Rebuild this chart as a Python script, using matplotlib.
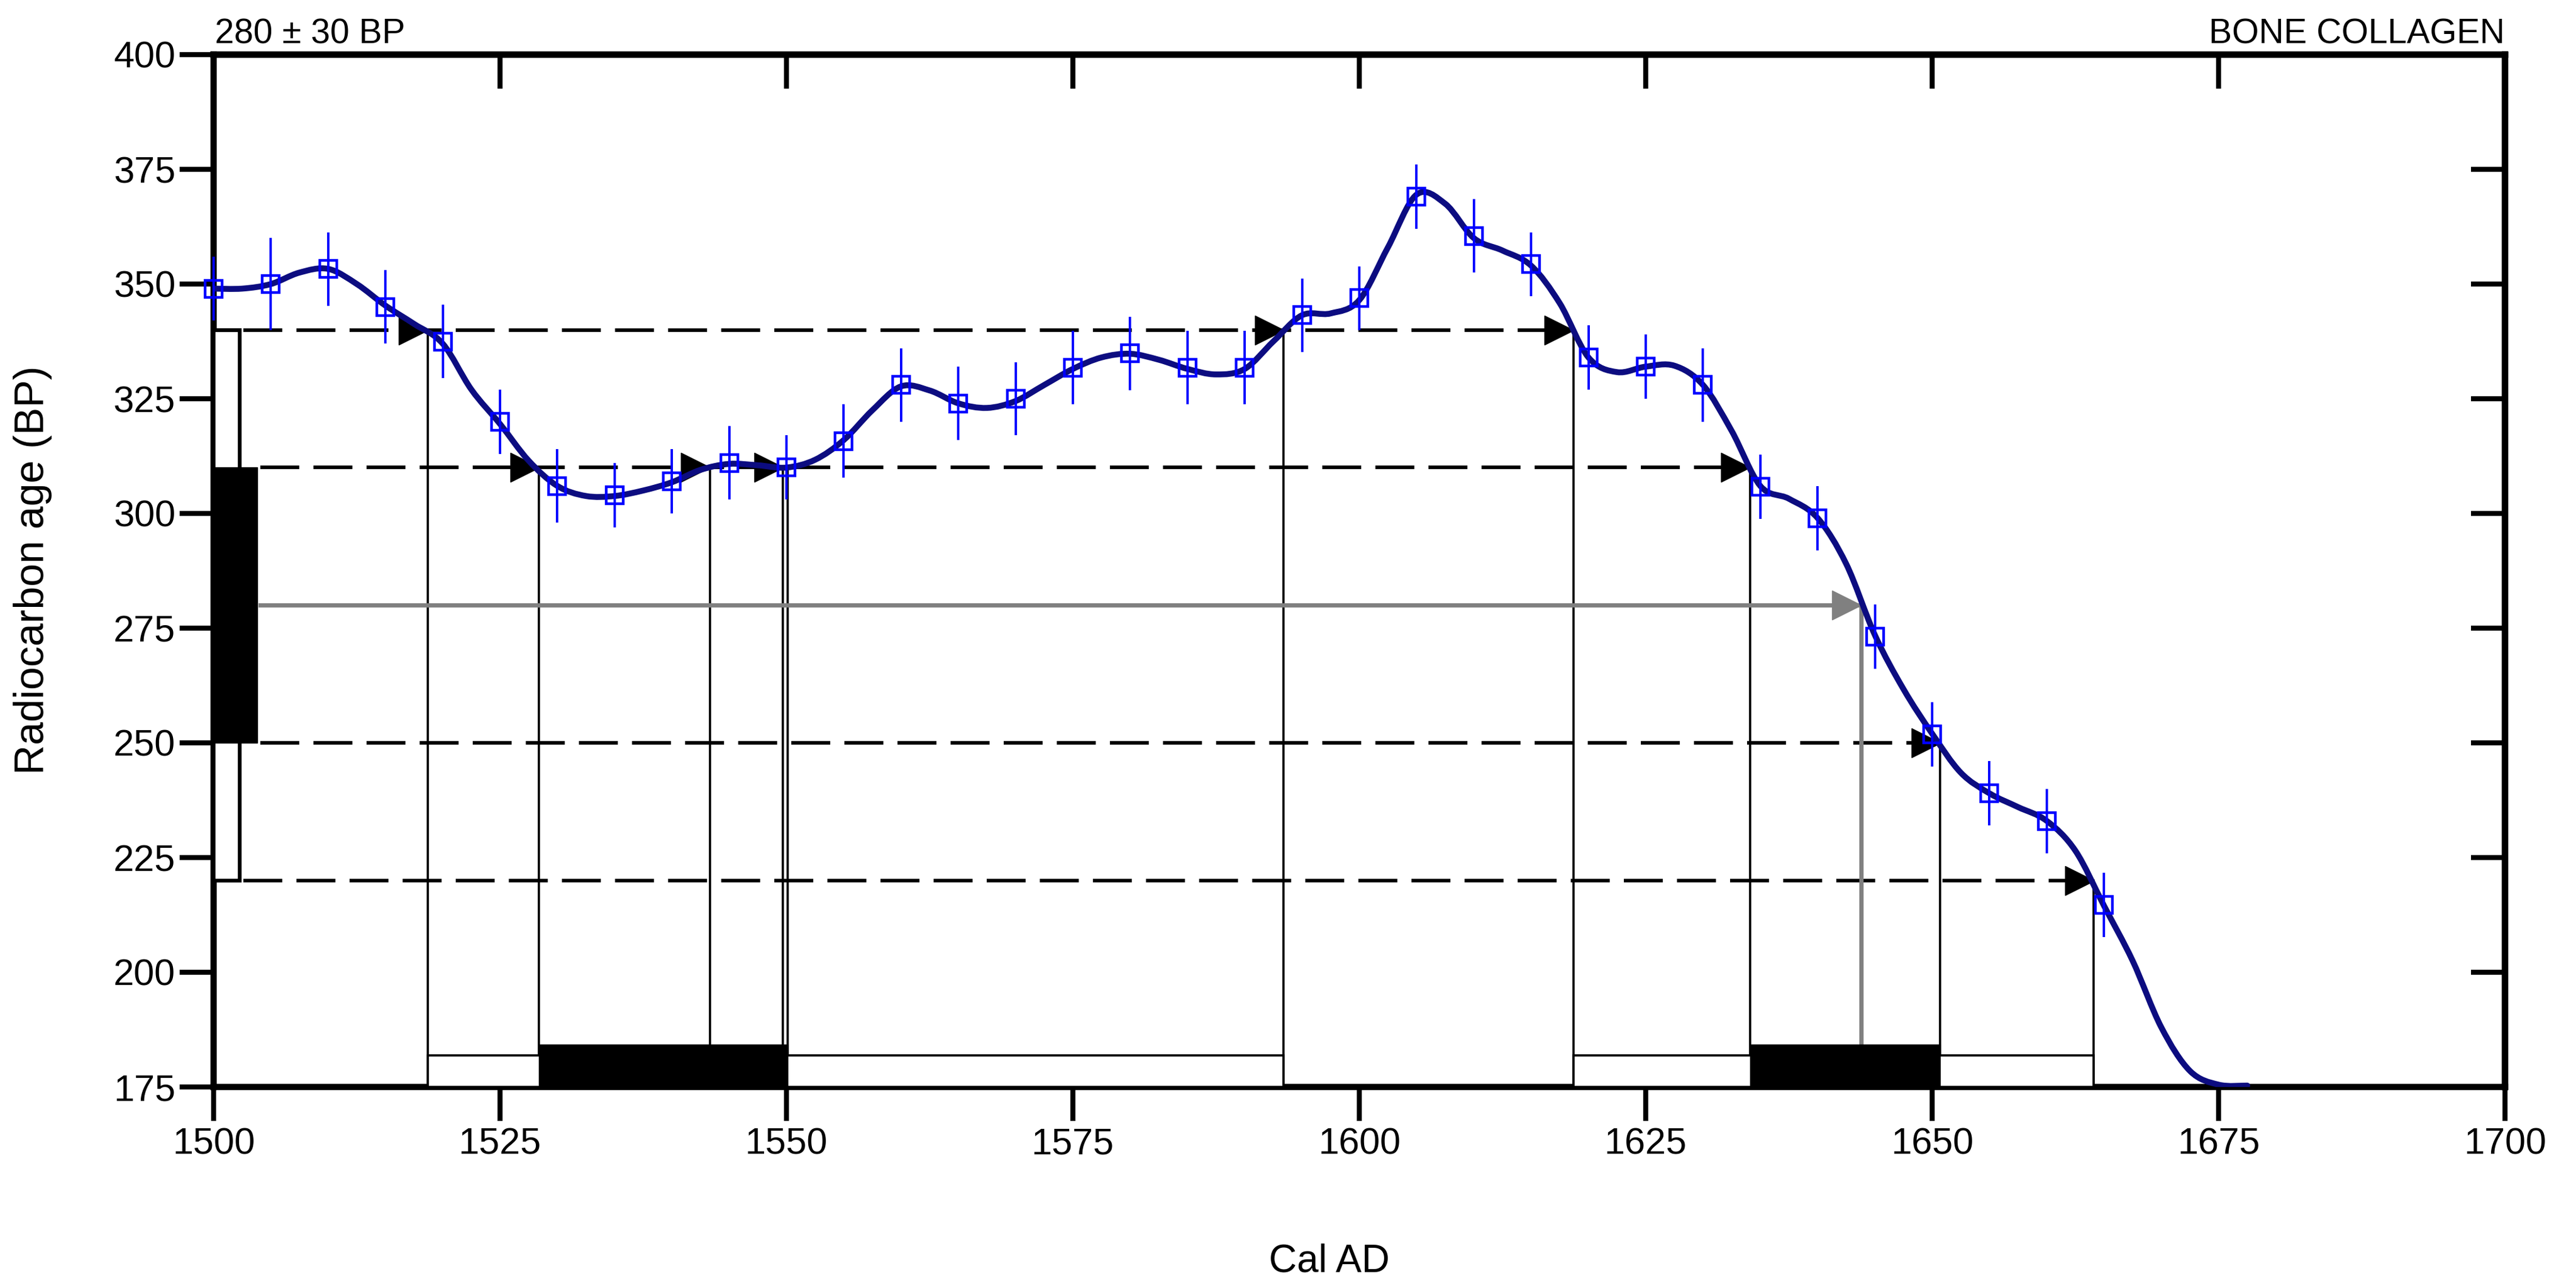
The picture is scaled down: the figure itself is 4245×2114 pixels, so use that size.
import numpy as np
import matplotlib
matplotlib.use("Agg")
import matplotlib.pyplot as plt
from matplotlib.path import Path
from matplotlib.patches import PathPatch
from matplotlib.transforms import offset_copy

plt.rcParams['font.family'] = ['Liberation Sans', 'DejaVu Sans']

# --- calibration curve data ---
point_year = np.arange(1500, 1666, 5)
point_age = [349, 350, 353.3, 345, 337.5, 320, 306, 304, 307, 311, 310, 315.8,
             328, 324, 325, 331.8, 334.9, 331.8, 331.8, 343.2, 346.9, 369, 360.5,
             354.3, 334, 332, 328, 305.8, 298.9, 273.1, 251.9, 239, 232.9, 214.7]
point_err = [7, 10, 8, 8, 8, 7, 8, 7, 7, 8, 7, 8, 8, 8, 8, 8, 8, 8, 8, 8, 7, 7,
             8, 7, 7, 7, 8, 7, 7, 7, 7, 7, 7, 7]

curve_year = np.arange(1500, 1677.6, 2.5)
curve_age = [349, 349, 350, 352.5, 353.3, 350, 345.3, 341.3, 337, 327, 319.5, 311.5,
             306, 303.8, 303.8, 305, 306.8, 309.5, 310.8, 310.5, 310, 311.7, 316, 322.5,
             327.7, 326.8, 324, 323, 324.5, 328, 331.5, 334, 334.8, 333.5, 331.5, 330.3,
             331.5, 337.5, 343.2, 343.6, 346.5, 358, 369.5, 367.5, 360, 357.3, 354, 345.8,
             334, 330.8, 332, 332.2, 328, 318, 306, 303.2, 299, 289, 273.5, 261.7,
             252, 243.5, 239, 236, 233, 226.5, 214.5, 202.5, 188, 178.5, 175.5, 175.3]

# sample: 280 +- 30 BP
sample_age = 280
sample_err = 30
cal_median = 1643.8

# intersections of the +-1 and +-2 sigma levels with the curve
level_ages = [340, 310, 250, 220]
level_hits = [[1518.7, 1593.4, 1618.7],
              [1528.4, 1543.3, 1549.7, 1550.1, 1634.1],
              [1650.7],
              [1664.1]]
# where an arrow head is drawn on each level
arrow_hits = [[1518.7, 1593.4, 1618.7],
              [1528.4, 1543.3, 1549.7, 1634.1],
              [1650.7],
              [1664.1]]

# calibrated ranges shown on the x axis
range_2s = [(1518.7, 1593.4), (1618.7, 1664.1)]
range_1s = [(1528.4, 1550.1), (1634.1, 1650.7)]

x_ticks = [1500, 1525, 1550, 1575, 1600, 1625, 1650, 1675, 1700]
y_ticks = [175, 200, 225, 250, 275, 300, 325, 350, 375, 400]


def smooth_path(xs, ys):
    # catmull-rom through the read points, as bezier segments
    pts = np.column_stack([xs, ys])
    n = len(pts)
    verts = [pts[0]]
    codes = [Path.MOVETO]
    for i in range(n - 1):
        p0 = pts[max(i - 1, 0)]
        p1 = pts[i]
        p2 = pts[i + 1]
        p3 = pts[min(i + 2, n - 1)]
        verts += [p1 + (p2 - p0) / 6, p2 - (p3 - p1) / 6, p2]
        codes += [Path.CURVE4] * 3
    return Path(verts, codes)


W, H = 4245, 2114
fig = plt.figure(figsize=(W / 100, H / 100), dpi=100)
ax = fig.add_axes([352 / W, 1 - 1791 / H, (4128 - 352) / W, (1791 - 90) / H])
ax.set_xlim(1500, 1700)
ax.set_ylim(175, 400)

spine_lw = 7.5
tick_len = 40
tick_w = 6
for s in ax.spines.values():
    s.set_linewidth(spine_lw)
ax.set_xticks(x_ticks)
ax.set_yticks(y_ticks)
ax.tick_params(direction='out', length=tick_len, width=tick_w, labelsize=44)
ax.tick_params(axis='x', pad=8)
ax.tick_params(axis='y', pad=5)

# inward ticks on top and right
top = ax.secondary_xaxis('top')
top.set_xticks(x_ticks)
top.tick_params(direction='in', length=tick_len, width=tick_w, labeltop=False)
top.spines['top'].set_linewidth(spine_lw)
right = ax.secondary_yaxis('right')
right.set_yticks(y_ticks)
right.tick_params(direction='in', length=tick_len, width=tick_w, labelright=False)
right.spines['right'].set_linewidth(spine_lw)

# left bars: sample age +-1 / +-2 sigma
lo2, hi2 = sample_age - 2 * sample_err, sample_age + 2 * sample_err
lo1, hi1 = sample_age - sample_err, sample_age + sample_err
ax.bar(1500, hi2 - lo2, bottom=lo2, width=2.3, align='edge', facecolor='white',
       edgecolor='black', linewidth=4.5, zorder=3, clip_on=False)
ax.bar(1500, hi1 - lo1, bottom=lo1, width=3.8, align='edge', facecolor='black',
       edgecolor='black', linewidth=1, zorder=4, clip_on=False)

# dashed sigma levels + drop lines to the axis
for lev, hits in zip(level_ages, level_hits):
    x0 = 1502.6 if lev in (hi2, lo2) else 1504.1
    ax.plot([x0, max(hits)], [lev, lev], color='black', lw=4.2,
            linestyle=(0, (11, 4)), zorder=2)
    for hx in hits:
        ax.plot([hx, hx], [175, lev], color='black', lw=2.6, zorder=2)

# arrow heads at each hit (tip on the curve)
arrow_tf = offset_copy(ax.transData, fig=fig, x=-17, y=0, units='points')
for lev, hits in zip(level_ages, arrow_hits):
    ax.plot(hits, [lev] * len(hits), linestyle='none', marker='>', ms=34,
            color='black', transform=arrow_tf, zorder=5)

# sample age line to the median
ax.plot([1504.1, cal_median], [sample_age, sample_age], color='#808080', lw=5, zorder=2)
ax.plot([cal_median, cal_median], [175, sample_age], color='#808080', lw=5, zorder=2)
ax.plot([cal_median], [sample_age], linestyle='none', marker='>', ms=34,
        color='#808080', transform=arrow_tf, zorder=5)

# calibrated ranges at the bottom
for a, b in range_2s:
    ax.bar(a, 6.9, bottom=175, width=b - a, align='edge', facecolor='white',
           edgecolor='black', linewidth=2.6, zorder=3)
for a, b in range_1s:
    ax.bar(a, 9.2, bottom=175, width=b - a, align='edge', facecolor='black',
           edgecolor='black', linewidth=1, zorder=4)

# calibration curve
curve = PathPatch(smooth_path(curve_year, curve_age), facecolor='none',
                  edgecolor='#0c0c80', lw=7, zorder=6, capstyle='round')
ax.add_patch(curve)

# intcal points with error bars
ax.errorbar(point_year, point_age, yerr=point_err, fmt='s', ms=20, mfc='none',
            mec='#0000ff', mew=3.2, ecolor='#0000ff', elinewidth=2.8, capsize=0,
            zorder=7, clip_on=False)

fig.text(354 / W, 1 - 71 / H, '280 ± 30 BP', fontsize=41, ha='left', va='baseline')
fig.text(4128 / W, 1 - 71 / H, 'BONE COLLAGEN', fontsize=41, ha='right', va='baseline')
fig.text(0.516, 1 - 2079 / H, 'Cal AD', fontsize=46, ha='center', va='center')
fig.text(54 / W, 1 - 939 / H, 'Radiocarbon age (BP)', fontsize=49, ha='center',
         va='center', rotation=90)

fig.savefig('out.png', dpi=100)
